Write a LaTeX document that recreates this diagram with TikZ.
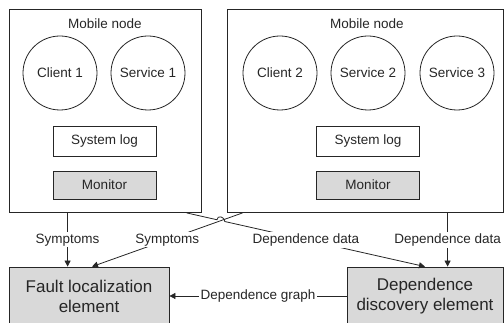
\documentclass[tikz,border=0pt]{standalone}
\usepackage{fontspec}
\setmainfont{Liberation Sans}
\usetikzlibrary{arrows.meta,calc}
\begin{document}
\begin{tikzpicture}[x=1pt,y=-1pt,
  every node/.style={font=\fontsize{13.5}{16}\selectfont, text=black!85},
  line/.style={draw=black!85, line width=0.8pt},
  mobile/.style={line, rectangle, inner sep=0pt},
  proc/.style={line, circle, minimum size=74pt, inner sep=0pt},
  logbox/.style={line, minimum width=103pt, minimum height=30pt, inner sep=0pt},
  monbox/.style={logbox, fill=gray!30, minimum height=28pt},
  elem/.style={line, fill=gray!30, inner sep=0pt, font=\fontsize{17}{20}\selectfont, align=center},
  lbl/.style={fill=white, inner sep=1.5pt},
  arr/.style={line, -{Triangle[length=6pt,width=6pt]}}
]
\useasboundingbox (0,0) rectangle (504,323);
\clip (0,0) rectangle (504,323);

% mobile nodes
\node[mobile, minimum width=192pt, minimum height=203pt] (mn1) at (105,111) {};
\node[mobile, minimum width=276pt, minimum height=203pt] (mn2) at (365,111) {};
\node (t1) at (105,24) {Mobile node};
\node (t2) at (367,24) {Mobile node};

\node[proc] (c1) at (60,73) {Client 1};
\node[proc] (s1) at (148,73) {Service 1};
\node[logbox] (log1) at (104.5,141) {System log};
\node[monbox] (mon1) at (104.5,185) {Monitor};

\node[proc] (c2) at (280,73) {Client 2};
\node[proc] (s2) at (368,73) {Service 2};
\node[proc] (s3) at (457,73) {Service 3};
\node[logbox] (log2) at (368,141) {System log};
\node[monbox] (mon2) at (368,185) {Monitor};

% elements
\node[elem, minimum width=160pt, minimum height=58pt] (fle) at (89,296) {Fault localization\\element};
\node[elem, minimum width=156pt, minimum height=58pt] (dde) at (425,296) {Dependence\\discovery element};

% connector end points
\coordinate (a1) at ($(mn1.south west)+(59,0)$);
\coordinate (b1) at ($(mn1.south west)+(178,0)$);
\coordinate (b2) at ($(dde.north)$);
\coordinate (c1s) at ($(mn2.south west)+(16,0)$);
\coordinate (c2) at ($(fle.north)+(3,0)$);
\coordinate (d1) at ($(mn2.south west)+(221,0)$);

% Symptoms (left)
\draw[arr] (a1) -- (a1 |- fle.north) node[lbl, midway] {Symptoms};
% Symptoms (from right node)
\draw[arr] (c1s) -- (c2) node[lbl, midway] {Symptoms};
% Dependence data (from left node), hopping over
\coordinate (X) at (intersection of b1--b2 and c1s--c2);
\coordinate (h1) at ($(X)!4pt!(b1)$);
\coordinate (h2) at ($(X)!4pt!(b2)$);
\draw[arr] (b1) -- (h1) .. controls ($(h1)+(0,-5)$) and ($(h2)+(0,-5)$) .. (h2) -- (b2);
\node[lbl] at ($(b1)!0.5!(b2)$) {Dependence data};
% Dependence data (right)
\draw[arr] (d1) -- (d1 |- dde.north) node[lbl, midway] {Dependence data};
% Dependence graph
\draw[arr] (dde.west) -- (fle.east) node[lbl, midway] {Dependence graph};
\end{tikzpicture}
\end{document}
